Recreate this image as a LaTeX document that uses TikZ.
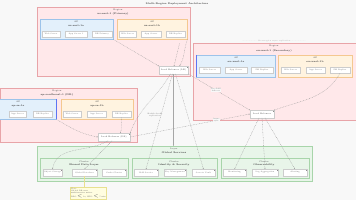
\documentclass[tikz,border=0pt]{standalone}
\usetikzlibrary{arrows.meta}
\definecolor{bgc}{HTML}{F8F8F8}
\definecolor{regfill}{HTML}{FFE8EA}
\definecolor{regdraw}{HTML}{E8A4A8}
\definecolor{azbfill}{HTML}{E3F0FB}
\definecolor{azbdraw}{HTML}{9CC3EA}
\definecolor{azofill}{HTML}{FFF3E0}
\definecolor{azodraw}{HTML}{F4C890}
\definecolor{grfill}{HTML}{E8F5E9}
\definecolor{grdraw}{HTML}{A8D5AA}
\definecolor{notefill}{HTML}{FFFDE0}
\definecolor{notedraw}{HTML}{E8E090}
\definecolor{edgec}{HTML}{9A9A9A}
\tikzset{
  txt/.style={font=\fontsize{2.2}{2.6}\selectfont, text=black!70, inner sep=0pt, align=center},
  ttl/.style={font=\fontsize{2.4}{2.8}\selectfont\bfseries, text=black!75, inner sep=0pt, align=center},
  boxreg/.style={draw=regdraw, fill=regfill, line width=0.5pt, anchor=north west, inner sep=0pt},
  boxazb/.style={draw=azbdraw, fill=azbfill, line width=0.4pt, anchor=north west, inner sep=0pt},
  boxazo/.style={draw=azodraw, fill=azofill, line width=0.4pt, anchor=north west, inner sep=0pt},
  boxgr/.style={draw=grdraw, fill=grfill, line width=0.5pt, anchor=north west, inner sep=0pt},
  svc/.style={draw=black!20, fill=white, line width=0.2pt, minimum height=6.5pt, inner sep=0pt, font=\fontsize{1.9}{2.2}\selectfont, text=black!60,
    path picture={\draw[black!45, line width=0.25pt] ([xshift=-1pt,yshift=-0.4pt]path picture bounding box.north east) -- ++(0pt,-1pt);}},
  gw/.style={draw=black!20, fill=white, line width=0.2pt, minimum height=7.5pt, inner sep=0pt, font=\fontsize{2.1}{2.4}\selectfont, text=black!70,
    path picture={\draw[black!45, line width=0.25pt] ([xshift=-1pt,yshift=-0.4pt]path picture bounding box.north east) -- ++(0pt,-1pt);}},
  note/.style={draw=notedraw, fill=notefill, line width=0.3pt, anchor=north west, inner sep=1pt, align=left, font=\fontsize{1.8}{2.2}\selectfont, text=black!70},
  lnk/.style={draw=edgec, line width=0.3pt, dash pattern=on 0.8pt off 0.8pt, -{Stealth[length=1.2pt,width=1pt]}},
  solidlnk/.style={draw=black!35, line width=0.35pt, -{Stealth[length=1.2pt,width=1pt]}},
  elab/.style={font=\fontsize{1.8}{2.1}\selectfont, text=black!60, inner sep=0.3pt, fill=bgc, align=center}
}
\begin{document}
\begin{tikzpicture}[x=1pt,y=-1pt]
\useasboundingbox (0,0) rectangle (356,200);
\fill[bgc] (0,0) rectangle (356,200);
\node[ttl] (title) at (177,3.5) {Multi-Region Deployment Architecture};

% ---- top region
\node[boxreg, minimum width=153pt, minimum height=69pt] (r1) at (37,7) {};
\node[txt] (r1a) at (118,10) {Region};
\node[ttl] (r1b) at (113,14) {us-east-1 (Primary)};
\node[boxazb, minimum width=73pt, minimum height=20pt] (z1) at (40,19) {};
\node[txt] (z1a) at (76,22) {AZ};
\node[ttl] (z1b) at (76,26) {us-east-1a};
\node[svc, minimum width=18pt] (s1) at (51,34) {Web Server};
\node[svc, minimum width=22pt] (s2) at (76,34) {App Server 1};
\node[svc, minimum width=20pt] (s3) at (102,34) {DB Primary};
\node[boxazo, minimum width=70pt, minimum height=20pt] (z2) at (117,19) {};
\node[txt] (z2a) at (152,22) {AZ};
\node[ttl] (z2b) at (152,26) {us-east-1b};
\node[svc, minimum width=17pt] (s4) at (127.5,34) {Web Server};
\node[svc, minimum width=20pt] (s5) at (151,34) {App Server};
\node[svc, minimum width=19pt] (s6) at (175.5,34) {DB Replica};
\node[gw, minimum width=29pt] (g1) at (173.5,70) {Load Balancer (LB)};

% ---- right region
\node[boxreg, minimum width=164pt, minimum height=77pt] (r2) at (193,43) {};
\node[txt] (r2a) at (274,46) {Region};
\node[ttl] (r2b) at (274,50.5) {eu-west-1 (Secondary)};
\node[boxazb, minimum width=79pt, minimum height=22pt] (z3) at (196,55) {};
\draw[azbdraw!60!blue, line width=0.6pt] (z3.north west) -- (z3.south west);
\node[txt] (z3a) at (236,58) {AZ};
\node[ttl] (z3b) at (236,62) {eu-west-1a};
\node[svc, minimum width=21pt] (s7) at (209.5,70) {Web Server};
\node[svc, minimum width=22pt] (s8) at (236,70) {App Server};
\node[svc, minimum width=22pt] (s9) at (262,70) {DB Replica};
\node[boxazo, minimum width=74pt, minimum height=22pt] (z4) at (278,55) {};
\node[txt] (z4a) at (315,58) {AZ};
\node[ttl] (z4b) at (315,62) {eu-west-1b};
\node[svc, minimum width=19pt] (s10) at (290.5,70) {Web Server};
\node[svc, minimum width=19pt] (s11) at (315.5,70) {App Server};
\node[svc, minimum width=20pt] (s12) at (340,70) {DB Replica};
\node[gw, minimum width=24pt] (g2) at (262,114) {Load Balancer};
\node[elab, text=black!40] (top2) at (274,41.5) {.................... Cross-region async replication ....................};

% ---- left region
\node[boxreg, minimum width=137pt, minimum height=54pt] (r3) at (0,88) {};
\node[txt] (r3a) at (57,90.5) {Region};
\node[ttl] (r3b) at (57,95) {ap-southeast-1 (DR)};
\node[boxazb, minimum width=57pt, minimum height=20pt] (z5) at (-1,99) {};
\draw[azbdraw!60!blue, line width=0.6pt] (z5.north east) -- (z5.south east);
\node[txt] (z5a) at (18,102) {AZ};
\node[ttl] (z5b) at (18,106) {ap-se-1a};
\node[svc, minimum width=17pt] (s13) at (17.5,114) {App Server};
\node[svc, minimum width=19pt] (s14) at (42.5,114) {DB Replica};
\node[boxazo, minimum width=72pt, minimum height=20pt] (z6) at (61,99) {};
\node[txt] (z6a) at (97,102) {AZ};
\node[ttl] (z6b) at (97,106) {ap-se-1b};
\node[svc, minimum width=18pt] (s15) at (72,114) {Web Server};
\node[svc, minimum width=19pt] (s16) at (96.5,114) {App Server};
\node[svc, minimum width=19pt] (s17) at (121.5,114) {DB Replica};
\node[gw, minimum width=32pt] (g3) at (114,137) {Load Balancer (DR)};

% ---- bottom global services
\node[boxgr, minimum width=275pt, minimum height=35pt] (gb) at (37,146) {};
\node[txt] (gba) at (174,149) {Layer};
\node[ttl] (gbb) at (174,153) {Global Services};
\node[boxgr, minimum width=88pt, minimum height=20pt] (b1) at (40,158) {};
\node[txt] (b1a) at (84,161.5) {Cluster};
\node[ttl] (b1b) at (84,165) {Shared Data Layer};
\node[svc, minimum width=19pt] (s18) at (52.5,172.5) {Object Storage};
\node[svc, minimum width=25pt] (s19) at (84.5,172.5) {Global Database};
\node[svc, minimum width=24pt] (s20) at (114,172.5) {Cache Cluster};
\node[boxgr, minimum width=85pt, minimum height=20pt] (b2) at (132,158) {};
\node[txt] (b2a) at (174,161.5) {Cluster};
\node[ttl] (b2b) at (174,165) {Identity \& Security};
\node[svc, minimum width=24pt] (s21) at (146,172.5) {IAM Service};
\node[svc, minimum width=22pt] (s22) at (175,172.5) {Key Management};
\node[svc, minimum width=23pt] (s23) at (203.5,172.5) {Secrets Vault};
\node[boxgr, minimum width=88pt, minimum height=20pt] (b3) at (221,158) {};
\node[txt] (b3a) at (264,161.5) {Cluster};
\node[ttl] (b3b) at (264,165) {Observability};
\node[svc, minimum width=23pt] (s24) at (234.5,172.5) {Monitoring};
\node[svc, minimum width=26pt] (s25) at (265,172.5) {Log Aggregation};
\node[svc, minimum width=24pt] (s26) at (295,172.5) {Alerting};

% ---- note
\node[note, minimum width=28pt, minimum height=12pt] (nt) at (70,187) {Note:\\Global DB uses\\multi-master writes\\RPO $<$ 1s, RTO $<$ 5 min};
\draw[notedraw, line width=0.4pt] (s19.south) -- (nt.north -| s19.south);

% ---- edges: top region
\draw[lnk] (z1.south east) -- (g1.north west);
\draw[lnk] (z2.south -| g1.north) ++(6,4) -- ([xshift=0.5pt]g1.north);
\draw[lnk] (z2.south east) to[out=-110,in=60] ([xshift=6pt]g1.north);
% ---- edges: right region
\draw[lnk] (s12.south) to[out=-120,in=20] (g2.north east);
% ---- edges: left region
\draw[lnk] (z5.south east) to[out=-30,in=170] (g3.west);
\draw[lnk] (s17.south) to[out=-100,in=60] ([xshift=6pt]g3.north);
% ---- gateway links
\draw[solidlnk] (g1.south) -- (gb.north -| g1.south);
\draw[lnk] ([xshift=-3pt]g1.south) to[out=-120,in=70] (g3.north east);
\draw[lnk] (g1.south east) -- node[elab, pos=0.45] {Geo-DNS\\failover} (g2.north west);
\node[elab] (lab1) at (155,115) {Health checks\\replication};
\draw[lnk] ([xshift=-1pt]g1.south) -- (s21.north);
\draw[lnk] ([xshift=2pt]g1.south) -- (s23.north);
\draw[lnk] (g3.east) -- node[elab, pos=0.72] {Async\\sync} (g2.west);
\draw[lnk] ([xshift=-6pt]g3.south) to[out=-150,in=80] (s18.north);
\draw[lnk] ([xshift=-2pt]g3.south) -- (s19.north);
\draw[lnk] ([xshift=-3pt]g2.south) -- (s24.north);
\draw[lnk] (g2.south) -- (s25.north);
\draw[lnk] ([xshift=3pt]g2.south) -- (s26.north);
\end{tikzpicture}
\end{document}
